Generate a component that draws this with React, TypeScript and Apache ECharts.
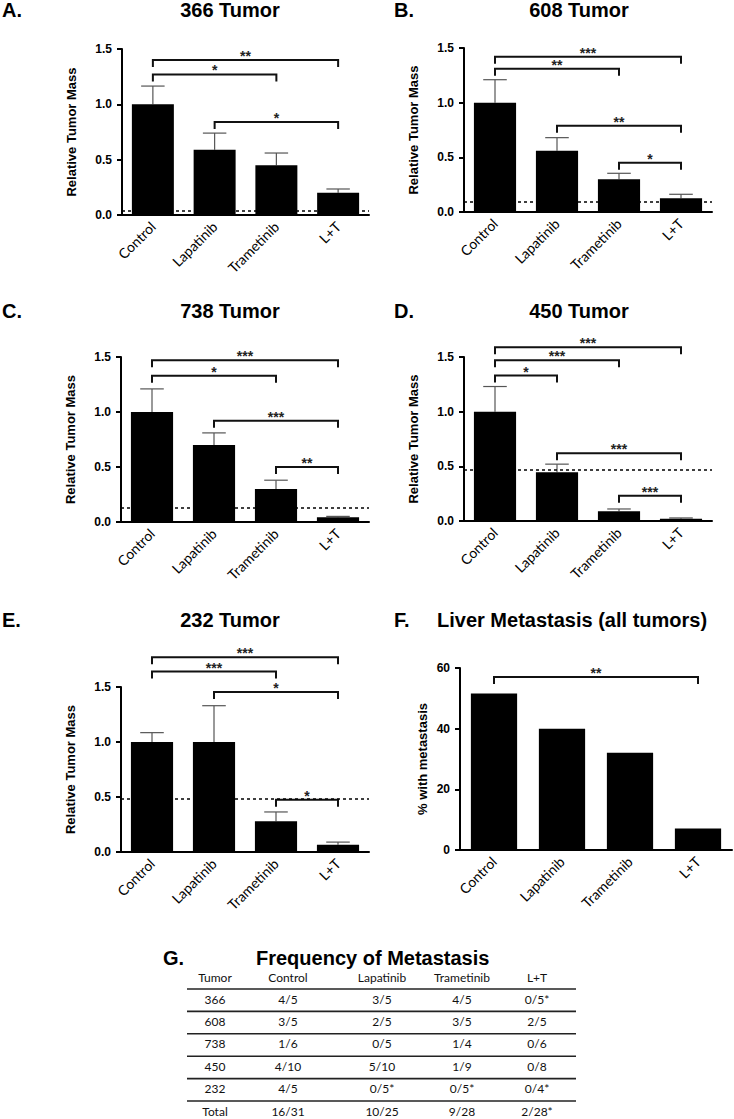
import React, { useEffect, useRef } from 'react';
import * as echarts from 'echarts';

// ---------- data ----------
const categories = ['Control', 'Lapatinib', 'Trametinib', 'L+T'];

const mean366 = [1.0, 0.59, 0.45, 0.2];
const sem366 = [0.165, 0.15, 0.11, 0.035];
const base366 = 0.036;
const sig366 = [[0, 3, 1.4], [0, 2, 1.27], [1, 3, 0.84]];
const stars366 = ['**', '*', '*'];

const mean608 = [1.0, 0.56, 0.3, 0.125];
const sem608 = [0.21, 0.12, 0.054, 0.037];
const base608 = 0.094;
const sig608 = [[0, 3, 1.42], [0, 2, 1.31], [1, 3, 0.79], [2, 3, 0.45]];
const stars608 = ['***', '**', '**', '*'];

const mean738 = [1.0, 0.7, 0.3, 0.043];
const sem738 = [0.21, 0.11, 0.08, 0.008];
const base738 = 0.13;
const sig738 = [[0, 3, 1.47], [0, 2, 1.33], [1, 3, 0.92], [2, 3, 0.5]];
const stars738 = ['***', '*', '***', '**'];

const mean450 = [1.0, 0.445, 0.09, 0.02];
const sem450 = [0.23, 0.075, 0.02, 0.008];
const base450 = 0.475;
const sig450 = [[0, 3, 1.59], [0, 2, 1.47], [0, 1, 1.33], [1, 3, 0.62], [2, 3, 0.23]];
const stars450 = ['***', '***', '*', '***', '***'];

const mean232 = [1.0, 1.0, 0.28, 0.067];
const sem232 = [0.085, 0.33, 0.084, 0.023];
const base232 = 0.48;
const sig232 = [[0, 3, 1.77], [0, 2, 1.64], [1, 3, 1.455], [2, 3, 0.475]];
const stars232 = ['***', '***', '*', '*'];

const liverMet = [51.6, 40, 32.1, 7.1];
const sigLiver = [[0, 3, 57]];
const starsLiver = ['**'];

const massTicks = [0, 0.5, 1.0, 1.5];
const metTicks = [0, 20, 40, 60];

const tableHeader = ['Tumor', 'Control', 'Lapatinib', 'Trametinib', 'L+T'];
const tableTumor = ['366', '608', '738', '450', '232', 'Total'];
const tableControl = ['4/5', '3/5', '1/6', '4/10', '4/5', '16/31'];
const tableLapatinib = ['3/5', '2/5', '0/5', '5/10', '0/5*', '10/25'];
const tableTrametinib = ['4/5', '3/5', '1/4', '1/9', '0/5*', '9/28'];
const tableLT = ['0/5*', '2/5', '0/6', '0/8', '0/4*', '2/28*'];

// ---------- layout ----------
const BOLD = '"Liberation Sans", Arial, sans-serif';
const LIGHT = 'Lato, "Open Sans", sans-serif';

const panels = [
  { mean: mean366, sem: sem366, base: base366, sig: sig366, stars: stars366, grid: { left: 122, top: 49, width: 247, height: 166 }, name: 'Relative Tumor Mass', ticks: massTicks, gap: 44, dec: 1 },
  { mean: mean608, sem: sem608, base: base608, sig: sig608, stars: stars608, grid: { left: 464, top: 48, width: 248, height: 164 }, name: 'Relative Tumor Mass', ticks: massTicks, gap: 44, dec: 1 },
  { mean: mean738, sem: sem738, base: base738, sig: sig738, stars: stars738, grid: { left: 121, top: 357, width: 248, height: 165 }, name: 'Relative Tumor Mass', ticks: massTicks, gap: 44, dec: 1 },
  { mean: mean450, sem: sem450, base: base450, sig: sig450, stars: stars450, grid: { left: 464, top: 357, width: 248, height: 164 }, name: 'Relative Tumor Mass', ticks: massTicks, gap: 44, dec: 1 },
  { mean: mean232, sem: sem232, base: base232, sig: sig232, stars: stars232, grid: { left: 121, top: 687, width: 248, height: 165 }, name: 'Relative Tumor Mass', ticks: massTicks, gap: 44, dec: 1 },
  { mean: liverMet, sem: null, base: null, sig: sigLiver, stars: starsLiver, grid: { left: 460, top: 668, width: 272, height: 182 }, name: '% with metastasis', ticks: metTicks, gap: 31, dec: 0 },
];

const titles = [
  { letter: 'A.', lx: 2, text: '366 Tumor', tx: 230, y: 10, align: 'center' },
  { letter: 'B.', lx: 394, text: '608 Tumor', tx: 579, y: 10, align: 'center' },
  { letter: 'C.', lx: 2, text: '738 Tumor', tx: 230, y: 311, align: 'center' },
  { letter: 'D.', lx: 394, text: '450 Tumor', tx: 579, y: 311, align: 'center' },
  { letter: 'E.', lx: 2, text: '232 Tumor', tx: 230, y: 620, align: 'center' },
  { letter: 'F.', lx: 394, text: 'Liver Metastasis (all tumors)', tx: 437, y: 620, align: 'left' },
  { letter: 'G.', lx: 163, text: 'Frequency of Metastasis', tx: 256, y: 958, align: 'left' },
];

function buildOption() {
  const grid: any[] = [];
  const xAxis: any[] = [];
  const yAxis: any[] = [];
  const series: any[] = [];

  panels.forEach((p, i) => {
    grid.push({ ...p.grid });
    xAxis.push({
      type: 'category',
      gridIndex: i,
      data: categories,
      axisLine: { lineStyle: { color: '#000', width: 2 } },
      axisTick: { alignWithLabel: true, length: 5, lineStyle: { color: '#000', width: 2 } },
      axisLabel: { rotate: 45, interval: 0, margin: 9, color: '#000', fontSize: 14, fontFamily: LIGHT },
    });
    const tk = p.ticks;
    yAxis.push({
      type: 'value',
      gridIndex: i,
      min: tk[0],
      max: tk[tk.length - 1],
      interval: tk[1] - tk[0],
      name: p.name,
      nameLocation: 'middle',
      nameRotate: 90,
      nameGap: p.gap,
      nameTextStyle: { color: '#000', fontSize: 13, fontWeight: 'bold', fontFamily: BOLD },
      splitLine: { show: false },
      axisLine: { show: true, lineStyle: { color: '#000', width: 2 } },
      axisTick: { show: true, length: 5, lineStyle: { color: '#000', width: 2 } },
      axisLabel: {
        color: '#000', fontSize: 12, fontWeight: 'bold', fontFamily: BOLD, margin: 10,
        formatter: (v: number) => v.toFixed(p.dec),
      },
    });

    const bar: any = {
      type: 'bar',
      xAxisIndex: i,
      yAxisIndex: i,
      data: p.mean,
      barWidth: '68%',
      itemStyle: { color: '#000' },
      silent: true,
    };
    if (p.base != null) {
      bar.markLine = {
        silent: true,
        symbol: ['none', 'none'],
        label: { show: false },
        lineStyle: { color: '#000', width: 1.5, type: [3, 3] },
        data: [{ yAxis: p.base }],
      };
    }
    series.push(bar);

    if (p.sem) {
      const sem = p.sem;
      series.push({
        type: 'custom',
        xAxisIndex: i,
        yAxisIndex: i,
        clip: false,
        silent: true,
        encode: { x: 0, y: [1, 2] },
        data: p.mean.map((m, j) => [j, m, m + sem[j]]),
        renderItem: (params: any, api: any) => {
          const x = api.value(0);
          const p0 = api.coord([x, api.value(1)]);
          const p1 = api.coord([x, api.value(2)]);
          const half = api.size([1, 0])[0] * 0.19;
          return {
            type: 'group',
            children: [
              { type: 'line', shape: { x1: p0[0], y1: p0[1], x2: p1[0], y2: p1[1] }, style: { stroke: '#555', lineWidth: 1.2 } },
              { type: 'line', shape: { x1: p1[0] - half, y1: p1[1], x2: p1[0] + half, y2: p1[1] }, style: { stroke: '#555', lineWidth: 1.2 } },
            ],
          };
        },
      });
    }

    const stars = p.stars;
    series.push({
      type: 'custom',
      xAxisIndex: i,
      yAxisIndex: i,
      clip: false,
      silent: true,
      encode: { x: [0, 1], y: 2 },
      data: p.sig,
      renderItem: (params: any, api: any) => {
        const a = api.coord([api.value(0), api.value(2)]);
        const b = api.coord([api.value(1), api.value(2)]);
        const tip = 7;
        return {
          type: 'group',
          children: [
            {
              type: 'polyline',
              shape: { points: [[a[0], a[1] + tip], [a[0], a[1]], [b[0], b[1]], [b[0], b[1] + tip]] },
              style: { stroke: '#111', lineWidth: 2, fill: null },
            },
            {
              type: 'text',
              x: (a[0] + b[0]) / 2,
              y: a[1] - 4,
              style: {
                text: stars[params.dataIndex], fill: '#222', font: 'bold 14px ' + BOLD,
                align: 'center', verticalAlign: 'middle', textAlign: 'center', textVerticalAlign: 'middle',
              },
            },
          ],
        };
      },
    });
  });

  const graphic: any[] = [];
  titles.forEach((t) => {
    graphic.push({
      type: 'text', x: t.lx, y: t.y,
      style: { text: t.letter, font: 'bold 20px ' + BOLD, fill: '#000', textAlign: 'left', textVerticalAlign: 'middle' },
    });
    graphic.push({
      type: 'text', x: t.tx, y: t.y,
      style: { text: t.text, font: 'bold 20px ' + BOLD, fill: '#000', textAlign: t.align, textVerticalAlign: 'middle' },
    });
  });

  // table
  const colX = [215, 288, 382, 462, 537];
  const headerY = 977;
  const rowY0 = 999;
  const rowStep = 22.4;
  const lineY0 = 989;
  const columns = [tableTumor, tableControl, tableLapatinib, tableTrametinib, tableLT];
  tableHeader.forEach((h, c) => {
    graphic.push({
      type: 'text', x: colX[c], y: headerY,
      style: { text: h, font: '12px ' + LIGHT, fill: '#111', textAlign: 'center', textVerticalAlign: 'middle' },
    });
  });
  columns.forEach((col, c) => {
    col.forEach((v, r) => {
      graphic.push({
        type: 'text', x: colX[c], y: rowY0 + r * rowStep,
        style: { text: v, font: '12px ' + LIGHT, fill: '#111', textAlign: 'center', textVerticalAlign: 'middle' },
      });
    });
  });
  for (let r = 0; r < tableTumor.length; r++) {
    const ly = lineY0 + r * rowStep;
    graphic.push({
      type: 'line',
      shape: { x1: 187, y1: ly, x2: 576, y2: ly },
      style: { stroke: '#222', lineWidth: 1.6 },
    });
  }

  return {
    animation: false,
    backgroundColor: '#fff',
    grid,
    xAxis,
    yAxis,
    series,
    graphic,
  };
}

export default function App() {
  const ref = useRef<HTMLDivElement>(null);
  useEffect(() => {
    if (!ref.current) return;
    const chart = echarts.init(ref.current, null, { renderer: 'svg' });
    chart.setOption(buildOption() as any);
    return () => chart.dispose();
  }, []);
  return (
    <div
      ref={ref}
      style={{ position: 'absolute', left: 0, top: 0, width: 734, height: 1119, background: '#fff' }}
    />
  );
}
